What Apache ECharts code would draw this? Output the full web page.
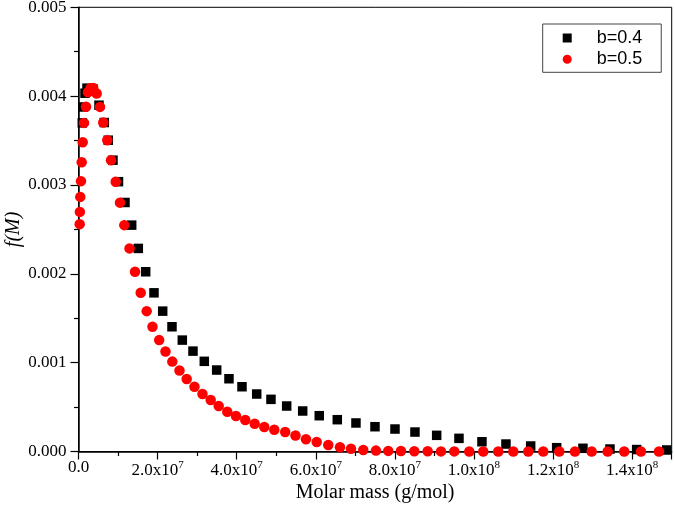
<!DOCTYPE html>
<html>
<head>
<meta charset="utf-8">
<script src="https://cdn.jsdelivr.net/npm/echarts@6/dist/echarts.min.js"></script>
<style>
html,body{margin:0;padding:0;background:#fff;}
#chart{width:675px;height:520px;}
</style>
</head>
<body>
<div id="chart"></div>
<script>
// Molar mass (g/mol) and f(M) for b = 0.4
var massB04 = [0.096e7,0.121e7,0.164e7,0.215e7,0.367e7,0.518e7,0.652e7,0.753e7,0.872e7,1.011e7,
  1.176e7,1.345e7,1.512e7,1.699e7,1.909e7,2.129e7,2.364e7,2.625e7,2.895e7,3.181e7,
  3.494e7,3.805e7,4.134e7,4.506e7,4.867e7,5.264e7,5.669e7,6.088e7,6.544e7,7.016e7,
  7.497e7,8.003e7,8.508e7,9.057e7,9.621e7,10.202e7,10.809e7,11.434e7,12.091e7,12.756e7,
  13.439e7,14.114e7,14.873e7];
var fB04 = [3.699e-3,3.878e-3,4.033e-3,4.09e-3,4.08e-3,3.898e-3,3.703e-3,3.504e-3,3.279e-3,3.037e-3,
  2.803e-3,2.548e-3,2.286e-3,2.023e-3,1.786e-3,1.580e-3,1.404e-3,1.254e-3,1.130e-3,1.015e-3,
  0.917e-3,0.819e-3,0.729e-3,0.647e-3,0.587e-3,0.512e-3,0.456e-3,0.403e-3,0.358e-3,0.321e-3,
  0.279e-3,0.253e-3,0.219e-3,0.182e-3,0.148e-3,0.110e-3,0.084e-3,0.062e-3,0.043e-3,0.036e-3,
  0.028e-3,0.022e-3,0.017e-3];
// Molar mass (g/mol) and f(M) for b = 0.5
var massB05 = [0.030e7,0.035e7,0.045e7,0.063e7,0.081e7,0.106e7,0.139e7,0.190e7,0.240e7,0.303e7,
  0.374e7,0.460e7,0.544e7,0.627e7,0.728e7,0.822e7,0.941e7,1.049e7,1.158e7,1.290e7,
  1.429e7,1.573e7,1.724e7,1.871e7,2.040e7,2.200e7,2.372e7,2.554e7,2.736e7,2.933e7,
  3.135e7,3.343e7,3.545e7,3.762e7,3.982e7,4.217e7,4.455e7,4.698e7,4.951e7,5.226e7,
  5.487e7,5.752e7,6.023e7,6.316e7,6.612e7,6.890e7,7.201e7,7.522e7,7.833e7,8.154e7,
  8.491e7,8.829e7,9.166e7,9.502e7,9.881e7,10.235e7,10.614e7,10.994e7,11.373e7,11.752e7,
  12.157e7,12.554e7,12.976e7,13.381e7,13.800e7,14.222e7,14.678e7];
var fB05 = [2.559e-3,2.697e-3,2.866e-3,3.043e-3,3.256e-3,3.481e-3,3.699e-3,3.881e-3,4.044e-3,4.089e-3,
  4.092e-3,4.029e-3,3.879e-3,3.703e-3,3.504e-3,3.279e-3,3.037e-3,2.801e-3,2.548e-3,2.286e-3,
  2.023e-3,1.786e-3,1.580e-3,1.404e-3,1.254e-3,1.125e-3,1.012e-3,0.911e-3,0.816e-3,0.729e-3,
  0.647e-3,0.579e-3,0.512e-3,0.448e-3,0.399e-3,0.354e-3,0.313e-3,0.276e-3,0.245e-3,0.219e-3,
  0.180e-3,0.137e-3,0.107e-3,0.073e-3,0.047e-3,0.031e-3,0.017e-3,0.010e-3,0.007e-3,0.005e-3,
  0.003e-3,0.002e-3,0.001e-3,0.001e-3,0,0,0,0,0,0,
  0,0,0,0,0,0,0];
var seriesNames = ['b=0.4', 'b=0.5'];
var xTitle = 'Molar mass (g/mol)';
var yTitle = 'f(M)';

function zip(a, b) { var out = []; for (var i = 0; i < a.length; i++) out.push([a[i], b[i]]); return out; }

var serif = 'Liberation Serif, Times New Roman, serif';
var chart = echarts.init(document.getElementById('chart'), null, {renderer: 'canvas'});
chart.setOption({
  animation: false,
  backgroundColor: '#fff',
  grid: {left: 78.5, right: 3.3, top: 7.3, bottom: 68.5, show: true, borderColor: '#000', borderWidth: 1,
         containLabel: false, outerBoundsMode: 'none'},
  legend: {
    orient: 'vertical', left: 542.7, top: 24,
    data: [{name: seriesNames[0], icon: 'path://M0,0H10V10H0Z'}, {name: seriesNames[1], icon: 'circle'}],
    itemWidth: 9, itemHeight: 9, itemGap: 3.3, symbolKeepAspect: true,
    padding: [5, 19, 4, 20],
    borderColor: '#444', borderWidth: 1,
    textStyle: {fontFamily: 'Liberation Sans, Arial, sans-serif', fontSize: 18, color: '#000', lineHeight: 18,
                padding: [0, 0, 0, 20]}
  },
  xAxis: {
    type: 'value', min: 0, max: 1.5e8, interval: 2e7,
    name: xTitle, nameLocation: 'middle', nameGap: 31, nameMoveOverlap: false,
    nameTextStyle: {fontFamily: serif, fontSize: 20, color: '#000'},
    axisLine: {show: true, lineStyle: {color: '#000', width: 1.5}},
    axisTick: {show: true, inside: false, length: 8, lineStyle: {color: '#000', width: 1.2}},
    minorTick: {show: true, splitNumber: 2, length: 4.5, lineStyle: {color: '#000', width: 1.2}},
    splitLine: {show: false},
    axisLabel: {
      showMaxLabel: false, margin: 8, color: '#000', fontFamily: serif, fontSize: 17,
      formatter: function (v) {
        if (v === 0) return '{b|0.0}';
        var e = Math.floor(Math.log10(v) + 1e-9);
        var m = v / Math.pow(10, e);
        return '{b|' + m.toFixed(1) + 'x10}{s|' + e + '}';
      },
      rich: {
        b: {fontFamily: serif, fontSize: 17, color: '#000', verticalAlign: 'bottom'},
        s: {fontFamily: serif, fontSize: 11, color: '#000', verticalAlign: 'bottom', padding: [0, 0, 9, 0]}
      }
    }
  },
  yAxis: {
    type: 'value', min: 0, max: 0.005, interval: 0.001,
    name: yTitle, nameLocation: 'middle', nameGap: 55, nameRotate: 90, nameMoveOverlap: false,
    nameTextStyle: {fontFamily: serif, fontSize: 20, fontStyle: 'italic', color: '#000'},
    axisLine: {show: true, lineStyle: {color: '#000', width: 1.5}},
    axisTick: {show: true, inside: false, length: 8, lineStyle: {color: '#000', width: 1.2}},
    minorTick: {show: true, splitNumber: 2, length: 4.5, lineStyle: {color: '#000', width: 1.2}},
    splitLine: {show: false},
    axisLabel: {margin: 12, color: '#000', fontFamily: serif, fontSize: 17,
      formatter: function (v) { return v.toFixed(3); }}
  },
  series: [
    {name: seriesNames[0], type: 'scatter', data: zip(massB04, fB04), symbol: 'rect', symbolSize: 9.5,
     clip: true, itemStyle: {color: '#000', opacity: 1}, z: 2},
    {name: seriesNames[1], type: 'scatter', data: zip(massB05, fB05), symbol: 'circle', symbolSize: 10.5,
     clip: true, itemStyle: {color: '#ff0000', opacity: 1}, z: 3}
  ]
});
</script>
</body>
</html>
